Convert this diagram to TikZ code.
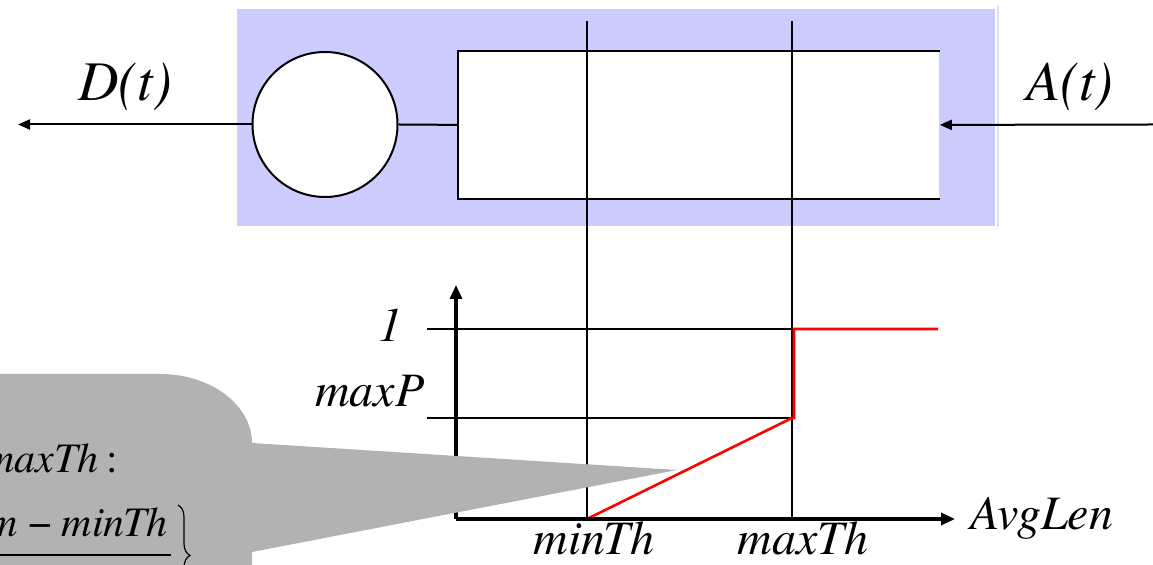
\documentclass[tikz,border=0pt]{standalone}
\usepackage{fontspec}
\newfontfamily\tms{texgyretermes}[Extension=.otf,UprightFont=*-regular,ItalicFont=*-italic,BoldFont=*-bold,BoldItalicFont=*-bolditalic]
\usetikzlibrary{arrows.meta,decorations.pathreplacing}
\definecolor{qblue}{RGB}{204,204,255}
\definecolor{qblueedge}{RGB}{222,222,255}
\definecolor{callgray}{RGB}{178,178,178}
\definecolor{redline}{RGB}{255,0,0}
\begin{document}
\begin{tikzpicture}[x=0.5pt,y=-0.5pt,
  thinline/.style={line width=1pt,black},
  axis/.style={line width=1.6pt,-{Triangle[length=7pt,width=6pt]}},
  flow/.style={line width=1pt,-{Triangle[length=6pt,width=5pt]}},
  lbl/.style={inner sep=0pt,font=\tms\fontsize{24}{28}\selectfont\itshape},
  biglbl/.style={inner sep=0pt,font=\tms\fontsize{28}{32}\selectfont\itshape},
  calltxt/.style={inner sep=0pt,font=\tms\fontsize{21}{25}\selectfont\itshape},
  redcurve/.style={line width=1.3pt,redline}]
\useasboundingbox (0,0) rectangle (1153,565);
\clip (0,0) rectangle (1153,565);
% queue background
\fill[qblue] (237,9) rectangle (995,226);
\draw[qblueedge,line width=0.6pt] (998,6) -- (998,227);
% server and queue
\node[draw,circle,fill=white,line width=1pt,minimum size=72.5pt,inner sep=0pt] (srv) at (325,124.5) {};
\node[fill=white,minimum width=240.5pt,minimum height=73.5pt,inner sep=0pt,anchor=north west] (q) at (458,51) {};
\draw[thinline] (q.north east) -- (q.north west) -- (q.south west) -- (q.south east);
\draw[thinline] (srv.east) -- (q.west);
\coordinate (dout) at (18,124.5);
\coordinate (ain) at (1153,124.5);
\draw[flow] (srv.west) -- (dout);
\draw[flow] (ain) -- (q.east);
% thresholds
\coordinate (o) at (456,519);
\coordinate (minT) at (587,21);
\coordinate (maxT) at (792,21);
\draw[thinline] (minT) -- (minT |- o);
\draw[thinline] (maxT) -- (maxT |- o);
\coordinate (one) at (427,329);
\coordinate (mp) at (427,418);
\draw[thinline] (one) -- (one -| maxT);
\draw[thinline] (mp) -- (mp -| maxT);
% drop probability curve
\draw[redcurve] (o) -- (minT |- o) -- (mp -| maxT) -- (794,418) -- (794,329) -- (938,329);
% axes
\coordinate (ytop) at (456,285);
\coordinate (xend) at (955,519);
\draw[axis] (o) -- (ytop);
\draw[axis] (o) -- (xend);
% labels
\node[lbl,anchor=base east] (l1) at (403,342) {1};
\node[lbl,anchor=base east] (lmp) at (425,407) {maxP};
\node[lbl,anchor=base] (lmin) at (594,555) {minTh};
\node[lbl,anchor=base] (lmax) at (803,555) {maxTh};
\node[lbl,anchor=base west] (lavg) at (970,530) {AvgLen};
\node[biglbl,anchor=base west] (ld) at (78,101) {D(t)};
\node[biglbl,anchor=base west] (la) at (1026,101) {A(t)};
% callout
\fill[callgray] (-10,374) -- (160,374) .. controls (211,374) and (252,405) .. (252,443) -- (677,470) -- (252,552) -- (252,575) -- (-10,575) -- cycle;
\node[calltxt,anchor=base east] (c1) at (119,473) {maxTh\hspace{4pt}\upshape:};
\node[calltxt,anchor=base east] (c2) at (168,537) {m\hspace{5pt}\upshape−\hspace{5pt}\itshape minTh};
\draw[line width=1pt] (-10,555) -- (171,555);
\draw[line width=0.6pt,decorate,decoration={brace,amplitude=6pt}] (178,505) -- (178,606);
\end{tikzpicture}
\end{document}
